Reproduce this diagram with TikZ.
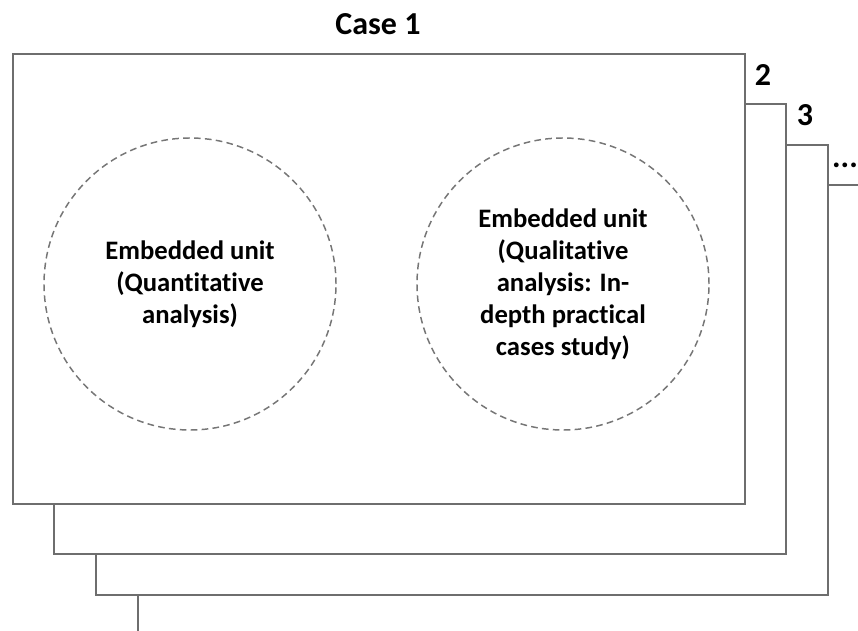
\documentclass[tikz,border=0pt]{standalone}
\usepackage{fontspec}
\setmainfont{Carlito}[Ligatures=CommonOff]
\usetikzlibrary{positioning}
\definecolor{frame}{HTML}{6E6E6E}
\definecolor{dashgray}{HTML}{767676}

\begin{document}
\begin{tikzpicture}[x=0.75pt,y=-0.75pt,
  page/.style={draw=frame,line width=1.5pt,fill=white,rectangle,anchor=north west,inner sep=0pt,
    minimum width=549pt,minimum height=337.5pt},
  unit/.style={circle,draw=dashgray,dash pattern=on 5pt off 3.2pt,line width=1.1pt,minimum size=219pt,
    align=center,inner sep=0pt,font=\bfseries\fontsize{20}{24}\selectfont},
  tag/.style={font=\bfseries\fontsize{24}{28}\selectfont,anchor=base,inner sep=0pt}]
  \useasboundingbox (0,0) rectangle (858,631);
  \clip (0,0) rectangle (858,631);
  % stacked cases, back to front
  \node[page] (page4) at (137,184) {};
  \node[page] (page3) at (95,144) {};
  \node[page] (page2) at (53,103) {};
  \node[page] (case1) at (12,53) {};
  \node[tag] (num2) at (763,86) {2};
  \node[tag] (num3) at (805,126) {3};
  \node[tag] (more) at (845,168) {...};
  \node[tag] (title) at (378,35) {Case 1};
  % embedded units
  \node[unit] (quant) at (190,284) {Embedded unit\\(Quantitative\\analysis)};
  \node[unit] (qual) at (563,284) {Embedded unit\\(Qualitative\\analysis: In-\\depth practical\\cases study)};
\end{tikzpicture}
\end{document}
